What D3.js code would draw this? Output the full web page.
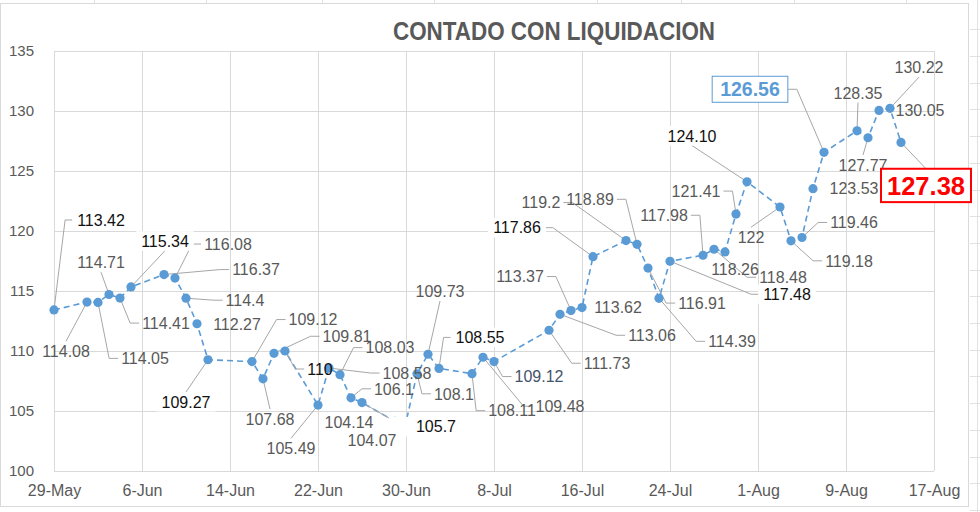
<!DOCTYPE html>
<html><head><meta charset="utf-8">
<script src="https://cdn.jsdelivr.net/npm/d3@7"></script>
<style>html,body{margin:0;padding:0;background:#fff;overflow:hidden}svg{display:block}</style>
</head><body>
<svg id="c" width="980" height="512"></svg>
<script>
// ---------- DATA ----------
const title = "CONTADO CON LIQUIDACION";
const dates = ["2020-05-29","2020-06-01","2020-06-02","2020-06-03","2020-06-04","2020-06-05",
  "2020-06-08","2020-06-09","2020-06-10","2020-06-11","2020-06-12",
  "2020-06-16","2020-06-17","2020-06-18","2020-06-19",
  "2020-06-22","2020-06-23","2020-06-24","2020-06-25","2020-06-26",
  "2020-06-29","2020-06-30","2020-07-01","2020-07-02","2020-07-03",
  "2020-07-06","2020-07-07","2020-07-08",
  "2020-07-13","2020-07-14","2020-07-15","2020-07-16","2020-07-17",
  "2020-07-20","2020-07-21","2020-07-22","2020-07-23","2020-07-24",
  "2020-07-27","2020-07-28","2020-07-29","2020-07-30","2020-07-31",
  "2020-08-03","2020-08-04","2020-08-05","2020-08-06","2020-08-07",
  "2020-08-10","2020-08-11","2020-08-12","2020-08-13","2020-08-14"];
const values = [113.42,114.08,114.05,114.71,114.41,115.34,
  116.37,116.08,114.4,112.27,109.27,
  109.12,107.68,109.81,110,
  105.49,108.58,108.03,106.1,105.7,
  104.14,104.07,108.1,109.73,108.55,
  108.11,109.48,109.12,
  111.73,113.06,113.37,113.62,117.86,
  119.2,118.89,116.91,114.39,117.48,
  117.98,118.48,118.26,121.41,124.10,
  122,119.18,119.46,123.53,126.56,
  128.35,127.77,130.05,130.22,127.38];
const labelTexts = ["113.42","114.08","114.05","114.71","114.41","115.34",
  "116.37","116.08","114.4","112.27","109.27",
  "109.12","107.68","109.81","110",
  "105.49","108.58","108.03","106.1","105.7",
  "104.14","104.07","108.1","109.73","108.55",
  "108.11","109.48","109.12",
  "111.73","113.06","113.37","113.62","117.86",
  "119.2","118.89","116.91","114.39","117.48",
  "117.98","118.48","118.26","121.41","124.10",
  "122","119.18","119.46","123.53","126.56",
  "128.35","127.77","130.05","130.22","127.38"];
const xTickDates = ["2020-05-29","2020-06-06","2020-06-14","2020-06-22","2020-06-30","2020-07-08",
  "2020-07-16","2020-07-24","2020-08-01","2020-08-09","2020-08-17"];
const yTicks = [100,105,110,115,120,125,130,135];

// ---------- LABEL LAYOUT (offset of label centre from its point, leader kind, style) ----------
// kind: s = elbow leader, d = straight leader, n = none
const labelLayout = [
  [47,-90,"s","k"],[-21,49,"d","g"],[47,56,"s","g"],[-8,-32,"d","g"],[46,25,"s","g"],[34,-46,"d","k"],
  [92,-5,"s","g"],[53,-34,"s","g"],[59,2,"s","g"],[40,0,"n","g"],[-22,42,"d","k"],
  [61,-42,"s","g"],[7,40,"d","g"],[73,-17,"s","g"],[35,18,"s","k0"],
  [-27,43,"d","g"],[78,5,"s","g"],[50,-27,"s","g"],[43,-9,"s","g"],[74,24,"s","kw"],
  [-46,1,"n","g"],[-34,18,"n","g"],[37,20,"s","g"],[12,-63,"d","g"],[41,-31,"s","k"],
  [40,37,"s","g"],[77,49,"s","g"],[45,15,"s","b"],
  [58,33,"s","g"],[92,21,"s","g"],[-51,-34,"s","g"],[36,0,"n","g"],[-76,-29,"s","k"],
  [-85,-38,"s","g"],[-47,-45,"s","g"],[54,35,"s","g"],[73,43,"s","g"],[117,33,"s","k"],
  [-39,-40,"s","g"],[69,28,"s","g"],[10,17,"n","g"],[-40,-23,"s","g"],[-55,-46,"d","k"],
  [-29,30,"d","g"],[58,20,"s","g"],[52,-15,"s","g"],[41,0,"n","g"],[-74,-63,"s","blue"],
  [1,-38,"d","g"],[-5,27,"d","g"],[41,0,"n","g"],[29,-41,"d","g"],[25,43,"d","red"]
];

// ---------- CHART ----------
const svg = d3.select("#c");
const parse = d3.timeParse("%Y-%m-%d");
const data = dates.map((d,i)=>({date:parse(d), value:values[i], label:labelTexts[i], lay:labelLayout[i]}));

const M = {left:54, right:934, top:51, bottom:471};
const x = d3.scaleTime().domain([parse("2020-05-29"), parse("2020-08-17")]).range([M.left, M.right]);
const y = d3.scaleLinear().domain([100,135]).range([M.bottom, M.top]);

const FONT = "'Liberation Sans', Arial, sans-serif";
const GRID = "#d9d9d9";
const BLUE = "#5b9bd5";

// spreadsheet cells around the chart object
const sheet = svg.append("g").attr("stroke","#e1e1e1").attr("stroke-width",1);
[94,206,322,434,597,681,794,906].forEach(v=>sheet.append("line").attr("x1",v+0.5).attr("x2",v+0.5).attr("y1",0).attr("y2",3));
d3.range(29.3,512,26.7).forEach(v=>sheet.append("line").attr("x1",970).attr("x2",980).attr("y1",Math.round(v)+0.5).attr("y2",Math.round(v)+0.5));
sheet.append("line").attr("x1",977.5).attr("x2",977.5).attr("y1",0).attr("y2",512);
// chart outer border
svg.append("rect").attr("x",0.5).attr("y",3.5).attr("width",968).attr("height",503)
  .attr("fill","#fff").attr("stroke",GRID);

// title
svg.append("text").attr("x",554).attr("y",40).attr("text-anchor","middle")
  .attr("font-family",FONT).attr("font-weight","bold").attr("font-size",25)
  .attr("fill","#595959").attr("textLength",322).attr("lengthAdjust","spacingAndGlyphs").text(title);

// gridlines
const g = svg.append("g");
g.selectAll("line.h").data(yTicks).join("line").attr("class","h")
  .attr("x1",M.left).attr("x2",M.right)
  .attr("y1",d=>Math.round(y(d))+0.5).attr("y2",d=>Math.round(y(d))+0.5)
  .attr("stroke",GRID).attr("stroke-width",1);
g.selectAll("line.v").data(xTickDates.map(parse)).join("line").attr("class","v")
  .attr("y1",M.top).attr("y2",M.bottom)
  .attr("x1",d=>Math.round(x(d))+0.5).attr("x2",d=>Math.round(x(d))+0.5)
  .attr("stroke",GRID).attr("stroke-width",1);

// axes (text only, via d3 axes)
const yAxis = svg.append("g").attr("transform",`translate(${M.left},0)`)
  .call(d3.axisLeft(y).tickValues(yTicks).tickSize(0).tickPadding(20));
yAxis.select(".domain").remove();
yAxis.selectAll("text").attr("font-family",FONT).attr("font-size",15).attr("fill","#595959");

const xAxis = svg.append("g").attr("transform",`translate(0,${M.bottom})`)
  .call(d3.axisBottom(x).tickValues(xTickDates.map(parse)).tickFormat(d3.timeFormat("%-d-%b")).tickSize(0).tickPadding(14));
xAxis.select(".domain").remove();
xAxis.selectAll("text").attr("font-family",FONT).attr("font-size",16).attr("fill","#595959");

// series line
const line = d3.line().x(d=>x(d.date)).y(d=>y(d.value));
svg.append("path").datum(data).attr("d",line).attr("fill","none")
  .attr("stroke",BLUE).attr("stroke-width",1.6).attr("stroke-dasharray","6,4");

// label styles
const styles = {
  g:{fill:"#595959",size:16,weight:"normal",box:false},
  k:{fill:"#111",size:16,weight:"normal",box:true},
  k0:{fill:"#111",size:16,weight:"normal",box:false},
  kw:{fill:"#111",size:16,weight:"normal",box:true,padL:27},
  b:{fill:"#44546a",size:16,weight:"normal",box:false},
  blue:{fill:BLUE,size:19.5,weight:"bold",box:true,stroke:BLUE,sw:1,pad:8,padV:6},
  red:{fill:"#ff0000",size:25.5,weight:"bold",box:true,stroke:"#ff0000",sw:2,pad:6,padV:7.5}
};
const leaders = svg.append("g");
const marks = svg.append("g");
const labs = svg.append("g");

data.forEach(d=>{
  const px = x(d.date), py = y(d.value);
  const [dx,dy,kind,st] = d.lay;
  const s = styles[st];
  const cx = px+dx, cy = py+dy;
  const grp = labs.append("g");
  const t = grp.append("text").attr("x",cx).attr("y",cy).attr("dy","0.36em")
    .attr("text-anchor","middle").attr("font-family",FONT).attr("font-size",s.size)
    .attr("font-weight",s.weight).attr("fill",s.fill).text(d.label);
  const w = t.node().getComputedTextLength();
  const h = s.size*0.72;
  const pad = s.pad ?? 5, padV = s.padV ?? 4;
  const bx0 = cx-w/2-pad, bx1 = cx+w/2+pad, by0 = cy-h/2-padV, by1 = cy+h/2+padV;
  if (s.box) {
    const left = cx-w/2-(s.padL??pad);
    grp.insert("rect","text").attr("x",left).attr("y",by0)
      .attr("width",bx1-left).attr("height",by1-by0)
      .attr("fill","#fff").attr("stroke",s.stroke||"none").attr("stroke-width",s.sw||0);
  }
  // leader
  const ex0 = s.stroke ? bx0 : cx-w/2-3, ex1 = s.stroke ? bx1 : cx+w/2+3;
  const ey0 = s.stroke ? by0 : cy-h/2-4, ey1 = s.stroke ? by1 : cy+h/2+4;
  let p = null;
  if (kind==="s") {
    if (cx>px) p = [[px,py],[ex0-9,cy],[ex0,cy]];
    else p = [[px,py],[ex1+9,cy],[ex1,cy]];
  } else if (kind==="d") {
    p = cy<py ? [[px,py],[cx,ey1]] : [[px,py],[cx,ey0]];
  }
  if (p) leaders.append("path").attr("d",d3.line()(p)).attr("fill","none")
    .attr("stroke","#a6a6a6").attr("stroke-width",1);
});

marks.selectAll("circle").data(data).join("circle")
  .attr("cx",d=>x(d.date)).attr("cy",d=>y(d.value)).attr("r",4.6).attr("fill",BLUE);
labs.raise();
</script>
</body></html>
